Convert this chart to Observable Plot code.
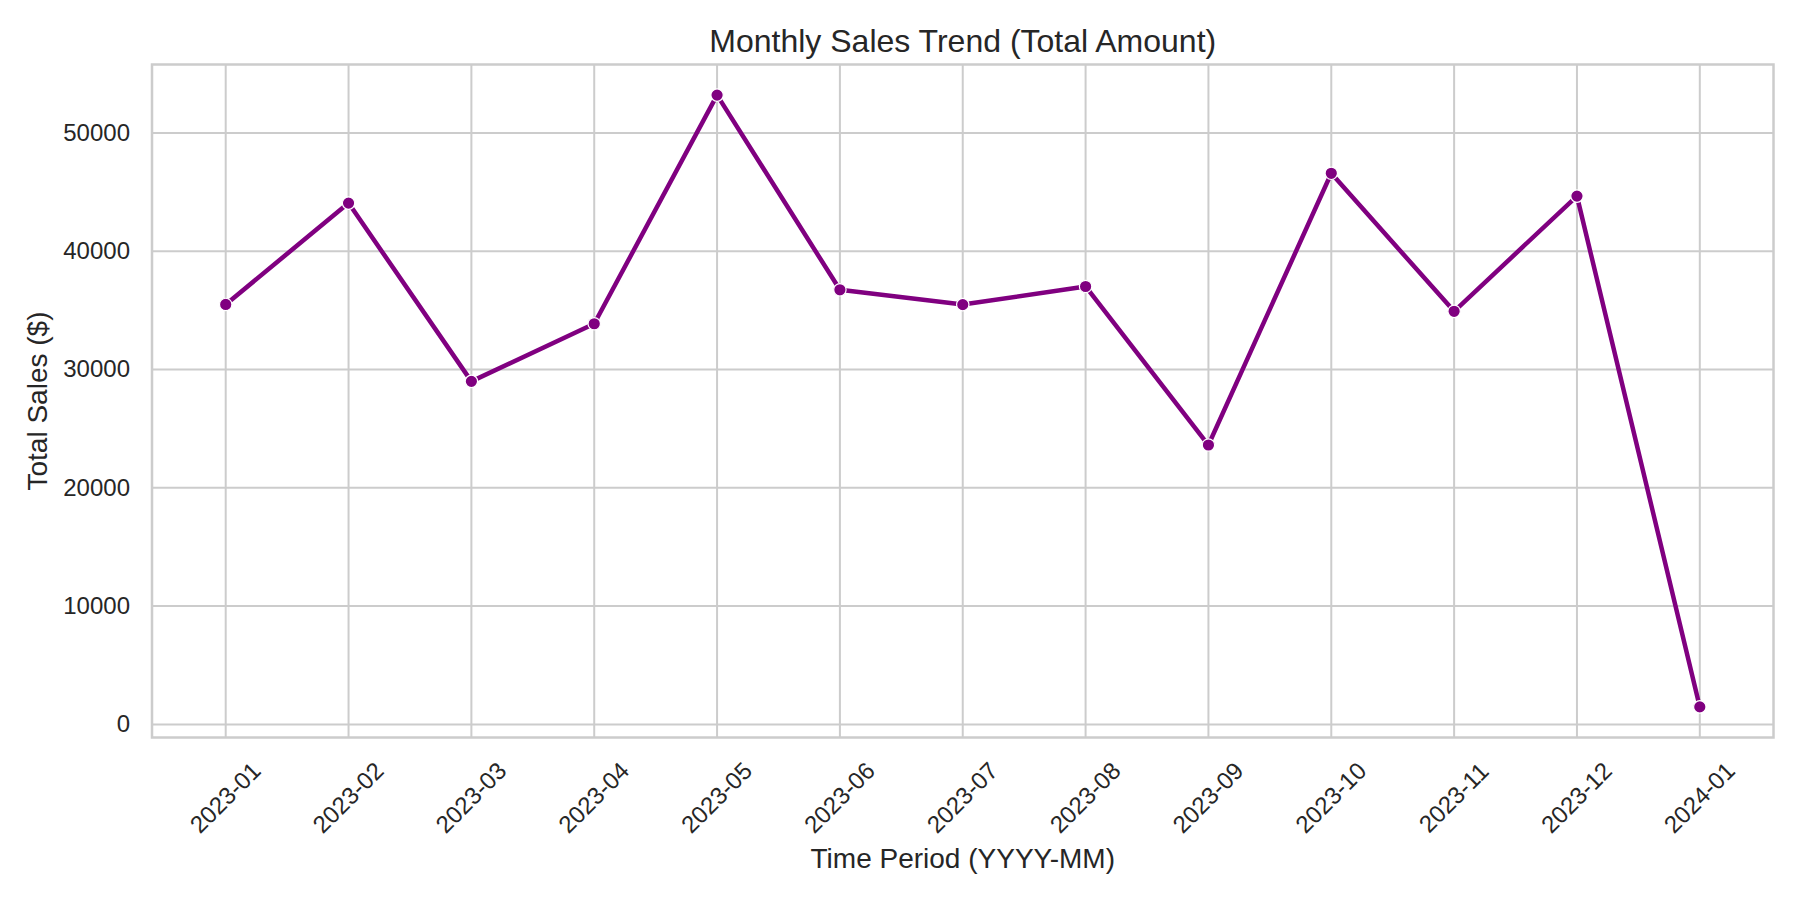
<!DOCTYPE html>
<html>
<head>
<meta charset="utf-8">
<script src="https://cdn.jsdelivr.net/npm/d3@7"></script>
<script src="https://cdn.jsdelivr.net/npm/@observablehq/plot@0.6"></script>
<style>
  html, body { margin: 0; padding: 0; background: #ffffff; }
  #chart { width: 1800px; height: 900px; }
</style>
</head>
<body>
<div id="chart"></div>
<script>
const months = ["2023-01","2023-02","2023-03","2023-04","2023-05","2023-06","2023-07","2023-08","2023-09","2023-10","2023-11","2023-12","2024-01"];
const sales = [35500, 44070, 29000, 33870, 53200, 36740, 35490, 37020, 23620, 46590, 34920, 44660, 1480];
const yTicks = [0, 10000, 20000, 30000, 40000, 50000];
const titleText = "Monthly Sales Trend (Total Amount)";
const xLabel = "Time Period (YYYY-MM)";
const yLabel = "Total Sales ($)";

const data = months.map((m, i) => ({month: m, sales: sales[i]}));

// matplotlib-like 5% margins on y
const [ymin, ymax] = d3.extent(sales);
const pad = (ymax - ymin) * 0.05;

const textColor = "#262626";
const gridColor = "#cccccc";
const purple = "#800080";

const chart = Plot.plot({
  width: 1800,
  height: 900,
  marginLeft: 151.5,
  marginRight: 27,
  marginTop: 64,
  marginBottom: 163,
  style: {fontFamily: "'Liberation Sans', Arial, sans-serif", fontSize: "24px", color: textColor, background: "#ffffff"},
  x: {type: "point", domain: months, padding: 0.6, round: false},
  y: {domain: [ymin - pad, ymax + pad]},
  marks: [
    Plot.gridX(months, {stroke: gridColor, strokeOpacity: 1, strokeWidth: 2}),
    Plot.gridY(yTicks, {stroke: gridColor, strokeOpacity: 1, strokeWidth: 2}),
    Plot.frame({stroke: gridColor, strokeWidth: 2.5}),
    Plot.axisY(yTicks, {tickSize: 0, tickPadding: 22, tickFormat: d => String(d), label: null, fill: textColor}),
    Plot.axisX(months, {tickSize: 0, tickPadding: 60.5, tickRotate: -45, textAnchor: "middle", lineAnchor: "middle", label: null, fill: textColor}),
    Plot.line(data, {x: "month", y: "sales", stroke: purple, strokeWidth: 4.5, strokeLinejoin: "round", strokeLinecap: "round"}),
    Plot.dot(data, {x: "month", y: "sales", r: 6.2, fill: purple, stroke: "#ffffff", strokeWidth: 1.2}),
    Plot.text([titleText], {frameAnchor: "top", lineAnchor: "bottom", dy: -12.3, fontSize: 32, fill: textColor}),
    Plot.text([xLabel], {frameAnchor: "bottom", lineAnchor: "bottom", dy: 130.3, fontSize: 28, fill: textColor}),
    Plot.text([yLabel], {frameAnchor: "left", rotate: -90, textAnchor: "middle", lineAnchor: "bottom", dx: -104.8, fontSize: 28, fill: textColor})
  ]
});
document.getElementById("chart").appendChild(chart);
</script>
</body>
</html>
